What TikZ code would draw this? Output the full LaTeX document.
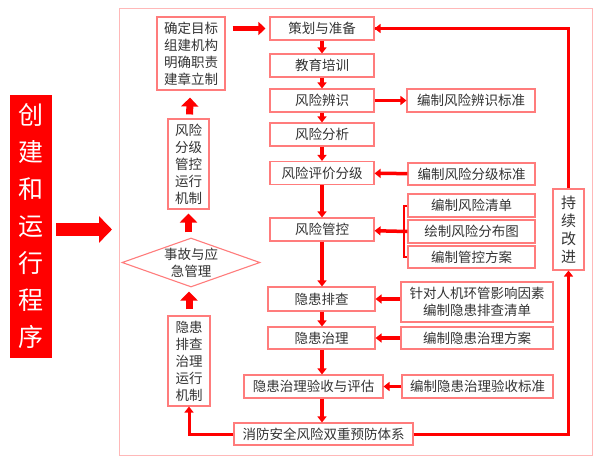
\documentclass[tikz,border=0pt]{standalone}
\usepackage{fontspec}
\setmainfont{Noto Sans CJK SC}
\usepackage{tikz}
\usetikzlibrary{arrows.meta,shapes.geometric}

\definecolor{boxred}{HTML}{FF7C7C}
\definecolor{framered}{HTML}{FFB8B8}
\definecolor{txtgray}{HTML}{333333}

\tikzset{
  box/.style={draw=boxred,line width=1.1pt,fill=white,text=txtgray,
    inner sep=0pt,align=center,font=\fontsize{13.5}{17}\selectfont},
  arr/.style={draw=red,line width=3.5pt,-{Triangle[length=6pt,width=9pt]}},
  thinline/.style={draw=red,line width=3pt},
  midarr/.style={draw=red,line width=5.5pt,-{Triangle[length=7pt,width=13pt]}},
  fatarr/.style={draw=red,line width=7pt,-{Triangle[length=9pt,width=17pt]}},
}

\begin{document}
\begin{tikzpicture}[x=1pt,y=-1pt]
    \useasboundingbox (0,0) rectangle (600,463);

    % draw outer frame
    \draw[framered,line width=1pt] (119,8) rectangle (592,455);

    % draw left title and big arrow
    \node[fill=red,text=white,minimum width=42pt,minimum height=263pt,inner sep=0pt,
      align=center,font=\fontsize{25}{37}\selectfont] (title) at (31,226.5)
      {创\\建\\和\\运\\行\\程\\序};
    \draw[red,line width=13pt,-{Triangle[length=13pt,width=26pt]},shorten <=4pt]
      (title.east |- 0,229.5) -- (112,229.5);

    % draw main chain
    \node[box,minimum width=104pt,minimum height=23pt] (plan) at (322,28.5) {策划与准备};
    \node[box,minimum width=104pt,minimum height=23pt] (train) at (322,65.5) {教育培训};
    \node[box,minimum width=104pt,minimum height=23pt] (ident) at (322,100.5) {风险辨识};
    \node[box,minimum width=104pt,minimum height=23pt] (anal) at (322,134.5) {风险分析};
    \node[box,minimum width=104pt,minimum height=23pt] (eval) at (322,173) {风险评价分级};
    \node[box,minimum width=104pt,minimum height=23pt] (ctrl) at (322,229.5) {风险管控};
    \node[box,minimum width=107pt,minimum height=24pt] (check) at (321.5,299) {隐患排查};
    \node[box,minimum width=107pt,minimum height=22pt] (treat) at (321.5,338) {隐患治理};
    \node[box,minimum width=139pt,minimum height=23pt] (accept) at (313.5,386.5) {隐患治理验收与评估};
    \node[box,minimum width=179pt,minimum height=22pt] (sys) at (323.5,434) {消防安全风险双重预防体系};

    % draw left column
    \node[box,minimum width=68pt,minimum height=73pt] (goal) at (191,53.5)
      {确定目标\\组建机构\\明确职责\\建章立制};
    \node[box,minimum width=41pt,minimum height=90pt] (mecha) at (188.5,164)
      {风险\\分级\\管控\\运行\\机制};
    \node[box,diamond,aspect=2.8,minimum width=138pt,minimum height=49pt] (acc) at (191,262.5)
      {事故与应\\急管理};
    \node[box,minimum width=42pt,minimum height=90pt] (mechb) at (189,361)
      {隐患\\排查\\治理\\运行\\机制};

    % draw right column
    \node[box,minimum width=128pt,minimum height=23pt] (stda) at (471,100.5) {编制风险辨识标准};
    \node[box,minimum width=127pt,minimum height=22pt] (stdb) at (471.5,174) {编制风险分级标准};
    \node[box,minimum width=127pt,minimum height=23pt] (rlist) at (471.5,205.5) {编制风险清单};
    \node[box,minimum width=127pt,minimum height=23pt] (rmap) at (471.5,231.5) {绘制风险分布图};
    \node[box,minimum width=127pt,minimum height=22pt] (rplan) at (471.5,257) {编制管控方案};
    \node[box,minimum width=152pt,minimum height=40pt] (hlist) at (477,302)
      {针对人机环管影响因素\\编制隐患排查清单};
    \node[box,minimum width=152pt,minimum height=22pt] (hplan) at (477,338) {编制隐患治理方案};
    \node[box,minimum width=151pt,minimum height=23pt] (hstd) at (477.5,386.5) {编制隐患治理验收标准};
    \node[box,minimum width=31pt,minimum height=81pt,font=\fontsize{15}{18}\selectfont]
      (impr) at (568.5,229.5) {持\\续\\改\\进};

    % draw chain arrows
    \foreach \a/\b in {plan/train,train/ident,ident/anal,anal/eval,eval/ctrl,
                       ctrl/check,check/treat,treat/accept,accept/sys}
    \draw[arr] (\a.south -| plan) -- (\b.north -| plan);

    % draw side arrows
    \draw[arr] (ident) -- (stda);
    \draw[arr] (stdb) -- (eval);
    \draw[arr] (hlist.west |- check) -- (check);
    \draw[arr] (hplan.west |- treat) -- (treat);
    \draw[arr] (hstd) -- (accept);

    % draw bracket
    \coordinate (brk) at (404,231.5);
    \draw[red,line width=2pt] (rlist.west) -| (brk |- rlist.west) -- (brk |- rplan.west) -- (rplan.west);
    \draw[arr] (brk -| rmap.west) -- (ctrl);

    % draw loops
    \coordinate (loopr) at (570,434);
    \coordinate (loopl) at (189,434);
    \draw[thinline] (impr.north) |- (plan.east);
    \draw[arr] ([xshift=12pt]plan.east) -- (plan.east);
    \draw[thinline,-{Triangle[length=6pt,width=9pt]}] (sys.east) -| (impr.south);
    \draw[thinline,-{Triangle[length=6pt,width=9pt]}] (sys.west) -| (mechb.south);

    % draw left column arrows
    \draw[midarr,shorten <=7pt,shorten >=4pt] (goal.east |- plan) -- (plan.west);
    \draw[fatarr,shorten <=4pt,shorten >=7pt] (mecha) -- (goal);
    \draw[fatarr,shorten <=5pt,shorten >=4pt] (acc.north -| mecha) -- (mecha);
    \draw[fatarr,shorten <=6pt,shorten >=4pt] (mechb.north) -- (acc.south -| mechb);
\end{tikzpicture}
\end{document}
